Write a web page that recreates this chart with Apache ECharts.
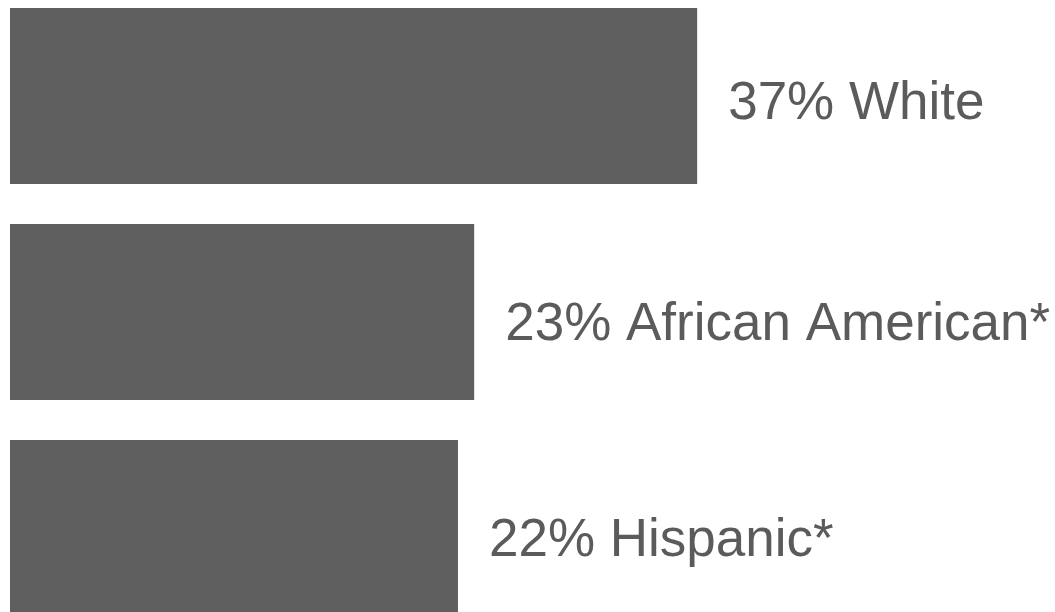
<!DOCTYPE html>
<html>
<head>
<meta charset="utf-8">
<script src="https://cdn.jsdelivr.net/npm/echarts@6/dist/echarts.min.js"></script>
<style>
html,body{margin:0;padding:0;background:#ffffff;}
#chart{width:1055px;height:612px;}
</style>
</head>
<body>
<div id="chart"></div>
<script>
// Categories (top to bottom)
const categories = ['White', 'African American*', 'Hispanic*'];
// Percent shares shown in the labels
const shares = [37, 23, 22];
// Bar lengths as drawn in the picture (not proportional to the shares in the original)
const barLengths = [33.9, 22.9, 22.1];

const labelOffsets = [[0, 8], [0, 13], [0, 13]];

const chart = echarts.init(document.getElementById('chart'), null, {renderer: 'canvas'});
chart.setOption({
  animation: false,
  backgroundColor: '#ffffff',
  grid: {left: 10, right: 31.5, top: -12, bottom: -24, containLabel: false, outerBoundsMode: 'none'},
  xAxis: {
    type: 'value', min: 0, max: 50,
    show: false
  },
  yAxis: {
    type: 'category', data: categories, inverse: true,
    show: false
  },
  series: [{
    type: 'bar',
    barWidth: 176,
    data: barLengths.map((v, i) => ({
      value: v,
      label: {offset: labelOffsets[i]}
    })),
    itemStyle: {color: '#5f5f5f'},
    label: {
      show: true,
      position: 'right',
      distance: 31,
      color: '#5b5b5b',
      fontFamily: '"Liberation Sans", Arial, sans-serif',
      fontSize: 53,
      formatter: p => shares[p.dataIndex] + '% ' + categories[p.dataIndex]
    }
  }]
});
</script>
</body>
</html>
